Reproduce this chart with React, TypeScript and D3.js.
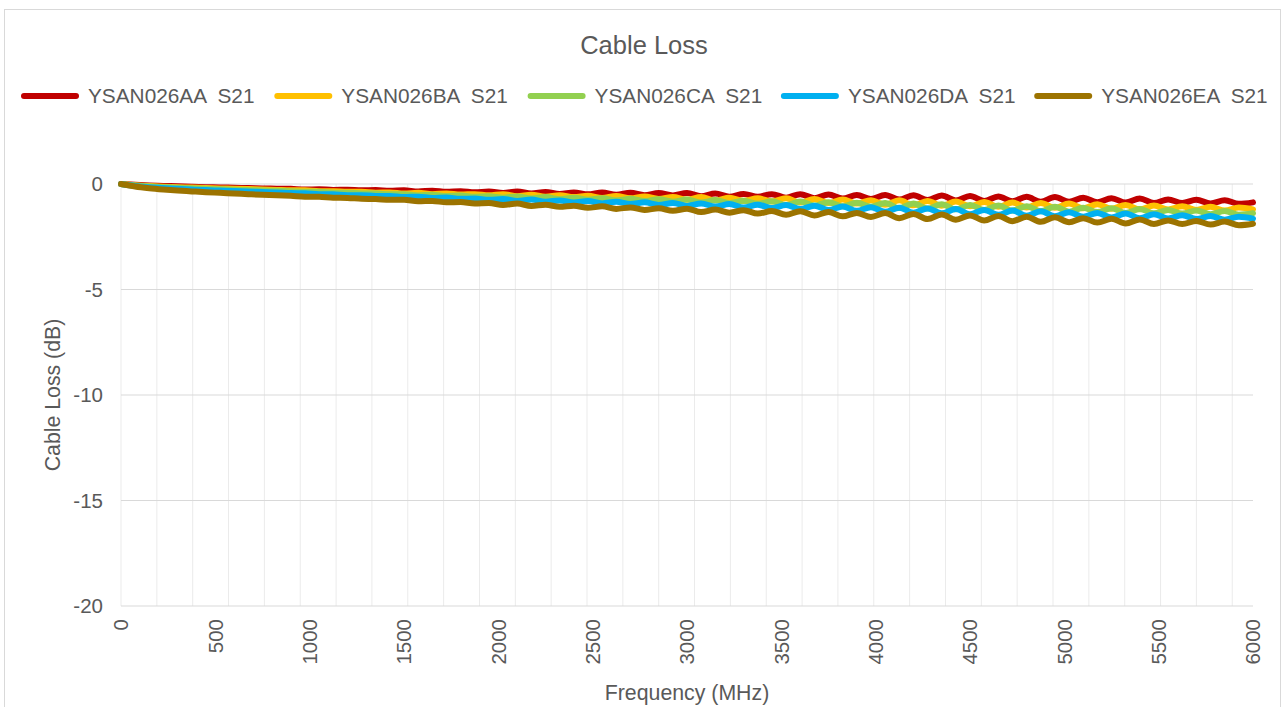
import React from 'react';
import * as d3 from 'd3';

// frequency grid (MHz)
const frequencies = [
  0, 75, 150, 225, 300, 375, 450, 525, 600, 675, 750, 825, 900, 975, 1050, 1125, 1200, 1275, 1350, 1425,
  1500, 1575, 1650, 1725, 1800, 1875, 1950, 2025, 2100, 2175, 2250, 2325, 2400, 2475, 2550, 2625, 2700,
  2775, 2850, 2925, 3000, 3075, 3150, 3225, 3300, 3375, 3450, 3525, 3600, 3675, 3750, 3825, 3900, 3975,
  4050, 4125, 4200, 4275, 4350, 4425, 4500, 4575, 4650, 4725, 4800, 4875, 4950, 5025, 5100, 5175, 5250,
  5325, 5400, 5475, 5550, 5625, 5700, 5775, 5850, 5925, 6000,
];

// S21 (dB) per cable
const lossAA = [
  0, -0.04, -0.07, -0.09, -0.11, -0.13, -0.15, -0.16, -0.18, -0.19, -0.21, -0.22, -0.23,
  -0.26, -0.25, -0.28, -0.27, -0.3, -0.29, -0.32,
  -0.3, -0.35, -0.32, -0.37, -0.34, -0.39, -0.36,
  -0.43, -0.36, -0.45, -0.38, -0.47, -0.4, -0.49,
  -0.4, -0.51, -0.42, -0.53, -0.43, -0.54,
  -0.43, -0.58, -0.45, -0.6, -0.47, -0.61, -0.48,
  -0.65, -0.48, -0.67, -0.5, -0.69, -0.52, -0.71,
  -0.52, -0.74, -0.53, -0.76, -0.55, -0.78, -0.57,
  -0.8, -0.59, -0.82, -0.61, -0.84, -0.62,
  -0.84, -0.65, -0.86, -0.67, -0.88, -0.69, -0.9,
  -0.73, -0.9, -0.75, -0.92, -0.77, -0.94, -0.87,
];
const lossBA = [
  0, -0.06, -0.1, -0.13, -0.15, -0.17, -0.19, -0.21, -0.22, -0.24, -0.26, -0.28, -0.3,
  -0.3, -0.34, -0.34, -0.37, -0.37, -0.41, -0.4,
  -0.45, -0.42, -0.48, -0.45, -0.5, -0.48, -0.53,
  -0.48, -0.58, -0.51, -0.6, -0.53, -0.62, -0.56,
  -0.66, -0.57, -0.68, -0.59, -0.71, -0.62,
  -0.75, -0.62, -0.78, -0.65, -0.8, -0.68, -0.83,
  -0.68, -0.88, -0.71, -0.9, -0.74, -0.93, -0.77,
  -0.98, -0.77, -1.01, -0.8, -1.03, -0.83, -1.06,
  -0.85, -1.08, -0.88, -1.11, -0.9, -1.13,
  -0.93, -1.15, -0.96, -1.17, -0.99, -1.2, -1.02,
  -1.21, -1.06, -1.23, -1.08, -1.26, -1.11, -1.2,
];
const lossCA = [
  0, -0.07, -0.12, -0.15, -0.18, -0.2, -0.22, -0.25, -0.27, -0.29, -0.31, -0.32, -0.34,
  -0.37, -0.37, -0.41, -0.41, -0.45, -0.45, -0.49,
  -0.48, -0.54, -0.51, -0.57, -0.55, -0.6, -0.58,
  -0.65, -0.59, -0.69, -0.62, -0.72, -0.65, -0.75,
  -0.67, -0.78, -0.7, -0.81, -0.72, -0.84,
  -0.73, -0.88, -0.76, -0.91, -0.79, -0.94, -0.82,
  -1.0, -0.83, -1.02, -0.86, -1.06, -0.89, -1.08,
  -0.9, -1.14, -0.93, -1.16, -0.96, -1.2, -0.99,
  -1.23, -1.02, -1.26, -1.05, -1.29, -1.08,
  -1.31, -1.12, -1.33, -1.15, -1.37, -1.18, -1.39,
  -1.23, -1.4, -1.26, -1.43, -1.28, -1.46, -1.39,
];
const lossDA = [
  0, -0.09, -0.15, -0.19, -0.23, -0.26, -0.29, -0.31, -0.33, -0.36, -0.38, -0.4, -0.43,
  -0.44, -0.48, -0.49, -0.53, -0.53, -0.57, -0.57,
  -0.62, -0.6, -0.66, -0.64, -0.7, -0.69, -0.75,
  -0.71, -0.8, -0.74, -0.84, -0.78, -0.88, -0.81,
  -0.92, -0.84, -0.95, -0.87, -0.99, -0.9,
  -1.04, -0.92, -1.07, -0.95, -1.11, -0.98, -1.14,
  -1.0, -1.19, -1.03, -1.23, -1.07, -1.27, -1.1,
  -1.32, -1.12, -1.36, -1.16, -1.39, -1.19, -1.43,
  -1.23, -1.46, -1.26, -1.5, -1.29, -1.53,
  -1.34, -1.55, -1.37, -1.59, -1.4, -1.62, -1.43,
  -1.63, -1.48, -1.66, -1.52, -1.69, -1.55, -1.64,
];
const lossEA = [
  0, -0.12, -0.2, -0.26, -0.31, -0.35, -0.39, -0.42, -0.45, -0.48, -0.51, -0.53, -0.56,
  -0.6, -0.61, -0.65, -0.66, -0.7, -0.71, -0.75,
  -0.75, -0.82, -0.8, -0.87, -0.85, -0.92, -0.9,
  -0.99, -0.93, -1.04, -0.98, -1.08, -1.03, -1.13,
  -1.06, -1.18, -1.11, -1.23, -1.15, -1.27,
  -1.17, -1.33, -1.21, -1.36, -1.24, -1.4, -1.28,
  -1.46, -1.29, -1.49, -1.33, -1.53, -1.37, -1.56,
  -1.38, -1.62, -1.42, -1.66, -1.45, -1.69, -1.49,
  -1.73, -1.52, -1.76, -1.55, -1.79, -1.58,
  -1.81, -1.62, -1.83, -1.65, -1.87, -1.68, -1.89,
  -1.73, -1.9, -1.75, -1.92, -1.78, -1.95, -1.88,
];

const seriesNames = ['YSAN026AA  S21', 'YSAN026BA  S21', 'YSAN026CA  S21', 'YSAN026DA  S21', 'YSAN026EA  S21'];
const seriesValues = [lossAA, lossBA, lossCA, lossDA, lossEA];
const seriesColors = ['#C00000', '#FFC000', '#92D050', '#00B0F0', '#9C7300'];

const xTicks = [0, 500, 1000, 1500, 2000, 2500, 3000, 3500, 4000, 4500, 5000, 5500, 6000];
const yTicks = [0, -5, -10, -15, -20];

const font = '"Liberation Sans", Arial, sans-serif';
const textColor = '#595959';

export default function App() {
  const width = 1284;
  const height = 707;

  const x = d3.scaleLinear().domain([0, 6000]).range([121, 1253]);
  const y = d3.scaleLinear().domain([-20, 0]).range([606, 184]);

  // vertical gridlines every 190 MHz like the source sheet
  const xGrid = d3.range(0, 6000, 190);

  const line = d3
    .line<number>()
    .x((d, i) => x(frequencies[i]))
    .y((d) => y(d))
    .curve(d3.curveMonotoneX);

  return (
    <div style={{ position: 'absolute', left: 0, top: 0 }}>
      <svg width={width} height={height} style={{ display: 'block', background: '#fff' }}>
        <rect x={4.5} y={9.5} width={1276} height={720} fill="#fff" stroke="#d9d9d9" />

        <text x={644} y={54} textAnchor="middle" fontFamily={font} fontSize={25.5} fill={textColor}>
          Cable Loss
        </text>

        {seriesNames.map((name, i) => {
          const lx = 22 + i * 253.3;
          return (
            <g key={name}>
              <line x1={lx + 2} x2={lx + 54} y1={96} y2={96} stroke={seriesColors[i]} strokeWidth={6} strokeLinecap="round" />
              <text x={lx + 66} y={103} fontFamily={font} fontSize={20.8} fill={textColor} style={{ whiteSpace: 'pre' }}>
                {name}
              </text>
            </g>
          );
        })}

        {xGrid.map((v) => (
          <line key={'gx' + v} x1={x(v)} x2={x(v)} y1={y(0)} y2={y(-20)} stroke="#ebebeb" strokeWidth={1} />
        ))}
        {yTicks.map((v) => (
          <line key={'gy' + v} x1={x(0)} x2={x(6000)} y1={y(v)} y2={y(v)} stroke="#d9d9d9" strokeWidth={1} />
        ))}

        {yTicks.map((v) => (
          <text key={'ty' + v} x={103} y={y(v)} dy="0.35em" textAnchor="end" fontFamily={font} fontSize={20.5} fill={textColor}>
            {v}
          </text>
        ))}
        {xTicks.map((v) => (
          <text
            key={'tx' + v}
            transform={`translate(${x(v)},619) rotate(-90)`}
            dy="0.35em"
            textAnchor="end"
            fontFamily={font}
            fontSize={20.5}
            fill={textColor}
          >
            {v}
          </text>
        ))}

        <text x={687} y={700} textAnchor="middle" fontFamily={font} fontSize={21.3} fill={textColor}>
          Frequency (MHz)
        </text>
        <text transform="translate(60,395) rotate(-90)" textAnchor="middle" fontFamily={font} fontSize={21.3} fill={textColor}>
          Cable Loss (dB)
        </text>

        {seriesValues.map((vals, i) => (
          <path
            key={seriesNames[i]}
            d={line(vals) || ''}
            fill="none"
            stroke={seriesColors[i]}
            strokeWidth={6}
            strokeLinejoin="round"
            strokeLinecap="round"
          />
        ))}
      </svg>
    </div>
  );
}
